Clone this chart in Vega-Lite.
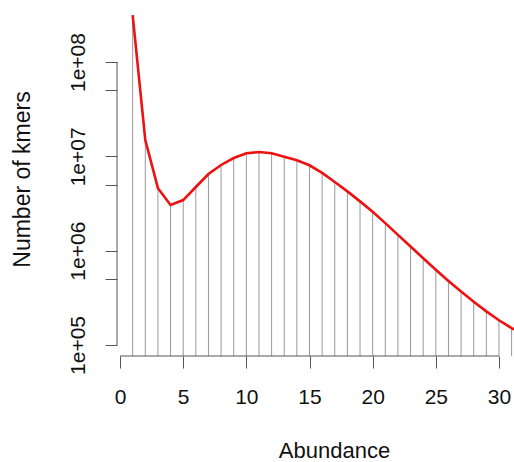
{
  "$schema": "https://vega.github.io/schema/vega-lite/v6.json",
  "autosize": {"type": "none"},
  "padding": {"left": 117, "top": 2, "right": 0, "bottom": 106},
  "width": 397,
  "height": 354,
  "background": "white",
  "config": {
    "view": {"stroke": null},
    "font": "Liberation Sans",
    "axis": {"grid": false, "domain": false, "tickColor": "#555", "tickSize": 12, "tickWidth": 1, "labelColor": "#111", "titleColor": "#111", "labelFontWeight": "normal", "titleFontWeight": "normal"}
  },
  "datasets": {
    "kmers": [
      {"abundance": 1, "count": 315000000},
      {"abundance": 2, "count": 14900000},
      {"abundance": 3, "count": 4600000},
      {"abundance": 4, "count": 3050000},
      {"abundance": 5, "count": 3440000},
      {"abundance": 6, "count": 4730000},
      {"abundance": 7, "count": 6500000},
      {"abundance": 8, "count": 8100000},
      {"abundance": 9, "count": 9600000},
      {"abundance": 10, "count": 10800000},
      {"abundance": 11, "count": 11100000},
      {"abundance": 12, "count": 10800000},
      {"abundance": 13, "count": 9890000},
      {"abundance": 14, "count": 9080000},
      {"abundance": 15, "count": 8040000},
      {"abundance": 16, "count": 6680000},
      {"abundance": 17, "count": 5350000},
      {"abundance": 18, "count": 4250000},
      {"abundance": 19, "count": 3330000},
      {"abundance": 20, "count": 2590000},
      {"abundance": 21, "count": 1960000},
      {"abundance": 22, "count": 1470000},
      {"abundance": 23, "count": 1107000},
      {"abundance": 24, "count": 832000},
      {"abundance": 25, "count": 627000},
      {"abundance": 26, "count": 478000},
      {"abundance": 27, "count": 368000},
      {"abundance": 28, "count": 287000},
      {"abundance": 29, "count": 227000},
      {"abundance": 30, "count": 183000},
      {"abundance": 31, "count": 151000},
      {"abundance": 32, "count": 129000}
    ]
  },
  "layer": [
    {
      "data": {"name": "kmers"},
      "mark": {"type": "rule", "color": "#999999", "strokeWidth": 1, "clip": true},
      "encoding": {
        "x": {
          "field": "abundance", "type": "quantitative",
          "scale": {"domain": [-0.24, 31.19], "nice": false, "zero": false},
          "axis": {"values": [0, 5, 10, 15, 20, 25, 30], "labelFontSize": 21, "labelPadding": 18, "title": "Abundance", "titleFontSize": 22, "titlePadding": 33, "titleX": 217, "labelFlush": false}
        },
        "y": {
          "field": "count", "type": "quantitative",
          "scale": {"type": "log", "domain": [76420, 433000000], "nice": false},
          "axis": {
            "values": [100000, 500000, 1000000, 5000000, 10000000, 50000000, 100000000],
            "labelExpr": "datum.value == 100000 ? '1e+05' : datum.value == 1000000 ? '1e+06' : datum.value == 10000000 ? '1e+07' : datum.value == 100000000 ? '1e+08' : ''",
            "labelAngle": -90, "labelAlign": "center", "labelBaseline": "bottom",
            "labelFontSize": 21, "labelPadding": 17, "labelFlush": false, "labelOverlap": false,
            "title": "Number of kmers", "titleFontSize": 23, "titlePadding": 33
          }
        },
        "y2": {"datum": 76420}
      }
    },
    {
      "data": {"name": "kmers"},
      "mark": {"type": "line", "color": "#ee1111", "strokeWidth": 2.6, "clip": true},
      "encoding": {
        "x": {"field": "abundance", "type": "quantitative"},
        "y": {"field": "count", "type": "quantitative"}
      }
    },
    {
      "data": {"values": [{"a": 1}]},
      "mark": {"type": "rule", "color": "#555", "strokeWidth": 1},
      "encoding": {
        "x": {"datum": -0.24},
        "y": {"datum": 100000},
        "y2": {"datum": 100000000}
      }
    },
    {
      "data": {"values": [{"a": 1}]},
      "mark": {"type": "rule", "color": "#555", "strokeWidth": 1},
      "encoding": {
        "y": {"datum": 76420},
        "x": {"datum": 0},
        "x2": {"datum": 30}
      }
    }
  ]
}
